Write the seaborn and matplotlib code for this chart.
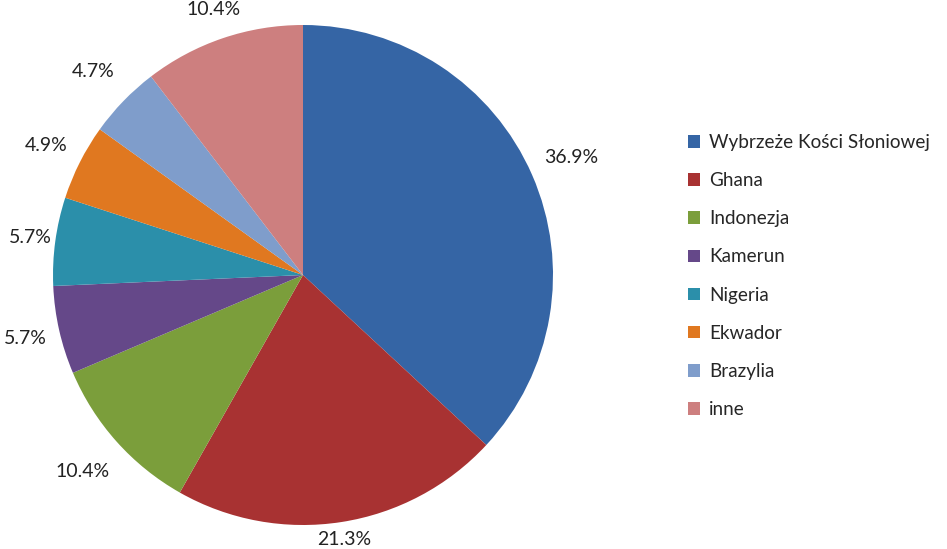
import matplotlib
matplotlib.use("Agg")
import numpy as np
import matplotlib.pyplot as plt
import seaborn as sns

countries = ["Wybrzeże Kości Słoniowej", "Ghana", "Indonezja", "Kamerun",
             "Nigeria", "Ekwador", "Brazylia", "inne"]
shares = [36.9, 21.3, 10.4, 5.7, 5.7, 4.9, 4.7, 10.4]
colors = ["#3565A5", "#A83232", "#7B9E3B", "#654889", "#2B8FAA",
          "#E07820", "#7F9DCB", "#CD7F7F"]
# how far each percentage label sits from the centre (in radii)
label_dist = [1.17, 1.07, 1.18, 1.14, 1.10, 1.15, 1.17, 1.12]

sns.set_theme(style="white")
plt.rcParams["font.family"] = ["Lato", "DejaVu Sans"]

fig = plt.figure(figsize=(9.47, 5.49), dpi=100)
ax = fig.add_axes([53 / 947, 24 / 549, 500 / 947, 500 / 549])

wedges, texts, autotexts = ax.pie(
    shares, colors=sns.color_palette(colors), startangle=90, counterclock=False,
    autopct="%.1f%%", pctdistance=1.15, radius=1.0,
    wedgeprops=dict(linewidth=0), textprops=dict(fontsize=14, color="#222222"))

# move labels along the middle of each wedge
for w, t, d in zip(wedges, autotexts, label_dist):
    ang = np.deg2rad((w.theta1 + w.theta2) / 2)
    t.set_position((d * np.cos(ang), d * np.sin(ang)))

ax.set_xlim(-1, 1)
ax.set_ylim(-1, 1)
ax.set_aspect("equal")

leg = fig.legend(wedges, countries, loc="upper left",
                 bbox_to_anchor=(671 / 947, 1 - 117 / 549), frameon=False,
                 fontsize=13.6, handlelength=0.65, handleheight=0.65,
                 handletextpad=0.45, labelspacing=1.12)

fig.savefig("out.png", dpi=100, facecolor="white")
